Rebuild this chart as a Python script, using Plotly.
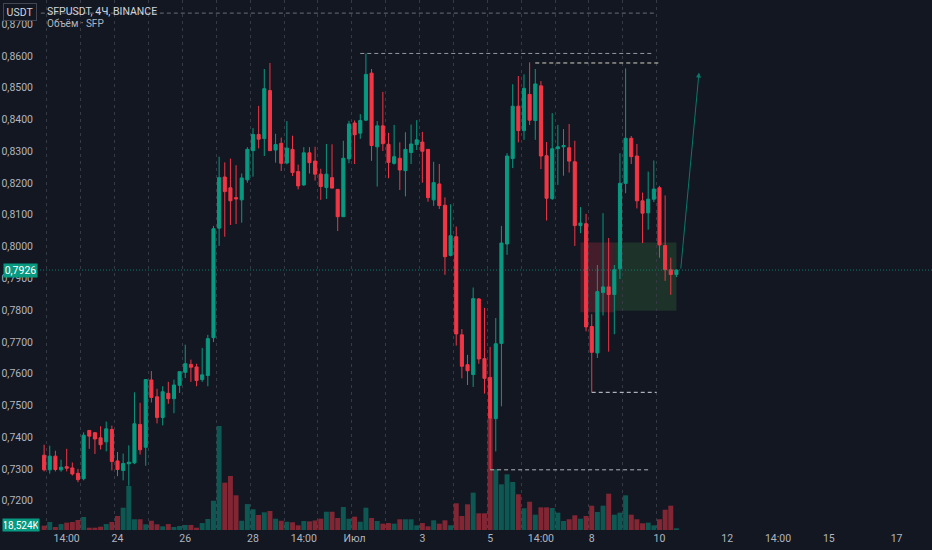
import pandas as pd
import plotly.graph_objects as go

# ---------------- data ----------------
open_ = [
    0.7343, 0.7297, 0.7340, 0.7297, 0.7307, 0.7303, 0.7286, 0.7269, 0.7421, 0.7414,
    0.7398, 0.7385, 0.7424, 0.7325, 0.7295, 0.7316, 0.7319, 0.7440, 0.7368, 0.7580,
    0.7527, 0.7462, 0.7538, 0.7521, 0.7563, 0.7604, 0.7629, 0.7621, 0.7581, 0.7594,
    0.7713, 0.8058, 0.8219, 0.8185, 0.8154, 0.8147, 0.8210, 0.8302, 0.8353, 0.8340,
    0.8491, 0.8304, 0.8325, 0.8263, 0.8306, 0.8236, 0.8194, 0.8295, 0.8269, 0.8228,
    0.8186, 0.8217, 0.8180, 0.8094, 0.8276, 0.8389, 0.8357, 0.8398, 0.8546, 0.8314,
    0.8380, 0.8322, 0.8262, 0.8278, 0.8239, 0.8296, 0.8321, 0.8329, 0.8306, 0.8147,
    0.8197, 0.8130, 0.7972, 0.8031, 0.7722, 0.7628, 0.7597, 0.7835, 0.7647, 0.7588,
    0.7458, 0.7695, 0.8008, 0.8277, 0.8442, 0.8365, 0.8479, 0.8397, 0.8506, 0.8286,
    0.8151, 0.8308, 0.8314, 0.8311, 0.8267, 0.8066, 0.8072, 0.7748, 0.7665, 0.7855,
    0.7873, 0.7849, 0.7930, 0.8199, 0.8341, 0.8285, 0.8144, 0.8106, 0.8149, 0.8185,
    0.8003, 0.7927, 0.7912,
]
high = [
    0.7376, 0.7373, 0.7357, 0.7329, 0.7363, 0.7320, 0.7300, 0.7415, 0.7421, 0.7414,
    0.7434, 0.7449, 0.7436, 0.7353, 0.7348, 0.7374, 0.7541, 0.7508, 0.7581, 0.7608,
    0.7552, 0.7560, 0.7574, 0.7581, 0.7606, 0.7691, 0.7644, 0.7631, 0.7681, 0.7722,
    0.8065, 0.8283, 0.8265, 0.8277, 0.8256, 0.8230, 0.8313, 0.8373, 0.8443, 0.8559,
    0.8578, 0.8355, 0.8343, 0.8395, 0.8349, 0.8258, 0.8313, 0.8313, 0.8314, 0.8245,
    0.8323, 0.8322, 0.8180, 0.8333, 0.8396, 0.8397, 0.8417, 0.8608, 0.8559, 0.8395,
    0.8487, 0.8358, 0.8383, 0.8328, 0.8360, 0.8384, 0.8398, 0.8361, 0.8306, 0.8267,
    0.8260, 0.8155, 0.8133, 0.8063, 0.7740, 0.7659, 0.7871, 0.7838, 0.7807, 0.7684,
    0.7775, 0.8065, 0.8294, 0.8511, 0.8537, 0.8542, 0.8580, 0.8559, 0.8521, 0.8329,
    0.8420, 0.8383, 0.8370, 0.8386, 0.8333, 0.8124, 0.8103, 0.7787, 0.7942, 0.8105,
    0.8027, 0.7942, 0.8294, 0.8561, 0.8348, 0.8323, 0.8170, 0.8236, 0.8271, 0.8191,
    0.8161, 0.7965, 0.7928,
]
low = [
    0.7292, 0.7285, 0.7292, 0.7291, 0.7292, 0.7279, 0.7258, 0.7264, 0.7363, 0.7347,
    0.7361, 0.7355, 0.7295, 0.7277, 0.7264, 0.7247, 0.7315, 0.7345, 0.7310, 0.7509,
    0.7443, 0.7437, 0.7505, 0.7475, 0.7539, 0.7586, 0.7574, 0.7560, 0.7574, 0.7560,
    0.7699, 0.8002, 0.8031, 0.8068, 0.8071, 0.8075, 0.8201, 0.8220, 0.8309, 0.8285,
    0.8302, 0.8264, 0.8238, 0.8259, 0.8222, 0.8180, 0.8191, 0.8230, 0.8208, 0.8147,
    0.8150, 0.8184, 0.8049, 0.8094, 0.8262, 0.8260, 0.8339, 0.8395, 0.8270, 0.8189,
    0.8301, 0.8215, 0.8258, 0.8178, 0.8158, 0.8260, 0.8304, 0.8201, 0.8141, 0.8128,
    0.8118, 0.7911, 0.7969, 0.7688, 0.7585, 0.7564, 0.7558, 0.7631, 0.7537, 0.7298,
    0.7355, 0.7497, 0.7974, 0.8247, 0.8328, 0.8336, 0.8383, 0.8336, 0.8244, 0.8082,
    0.8147, 0.8194, 0.8223, 0.8233, 0.8002, 0.8042, 0.7733, 0.7541, 0.7649, 0.7783,
    0.7669, 0.7724, 0.7898, 0.8168, 0.8260, 0.8120, 0.8011, 0.8053, 0.8140, 0.7965,
    0.7892, 0.7848, 0.7904,
]
close = [
    0.7297, 0.7340, 0.7298, 0.7305, 0.7302, 0.7284, 0.7266, 0.7406, 0.7403, 0.7394,
    0.7376, 0.7426, 0.7323, 0.7298, 0.7317, 0.7321, 0.7442, 0.7360, 0.7581, 0.7525,
    0.7462, 0.7543, 0.7521, 0.7564, 0.7606, 0.7631, 0.7620, 0.7578, 0.7596, 0.7710,
    0.8056, 0.8217, 0.8173, 0.8144, 0.8150, 0.8216, 0.8306, 0.8353, 0.8338, 0.8497,
    0.8302, 0.8321, 0.8262, 0.8310, 0.8233, 0.8191, 0.8295, 0.8264, 0.8228, 0.8189,
    0.8228, 0.8184, 0.8094, 0.8278, 0.8386, 0.8352, 0.8397, 0.8542, 0.8318, 0.8380,
    0.8324, 0.8265, 0.8283, 0.8241, 0.8306, 0.8323, 0.8336, 0.8300, 0.8154, 0.8201,
    0.8129, 0.7968, 0.8034, 0.7725, 0.7623, 0.7609, 0.7836, 0.7646, 0.7585, 0.7460,
    0.7694, 0.8011, 0.8285, 0.8442, 0.8365, 0.8498, 0.8398, 0.8512, 0.8285, 0.8152,
    0.8308, 0.8314, 0.8318, 0.8269, 0.8066, 0.8074, 0.7747, 0.7667, 0.7858, 0.7873,
    0.7849, 0.7927, 0.8199, 0.8341, 0.8283, 0.8144, 0.8105, 0.8149, 0.8181, 0.8005,
    0.7927, 0.7912, 0.7926,
]
volume_k = [
    47, 87, 33, 65, 80, 87, 109, 142, 25, 25,
    36, 65, 87, 153, 243, 480, 117, 117, 62, 101,
    62, 40, 65, 33, 44, 55, 55, 25, 76, 120,
    319, 1134, 516, 589, 378, 101, 283, 226, 164, 193,
    207, 123, 101, 90, 84, 51, 98, 94, 104, 123,
    199, 199, 131, 251, 123, 145, 90, 243, 131, 98,
    69, 76, 69, 117, 117, 117, 51, 76, 40, 106,
    69, 106, 51, 291, 153, 280, 407, 182, 182, 1221,
    662, 498, 607, 523, 389, 237, 308, 167, 247, 247,
    240, 189, 98, 117, 160, 123, 153, 265, 196, 265,
    396, 167, 189, 378, 167, 117, 73, 80, 51, 117,
    221, 265, 18.524,
]

first_candle = "2023-06-21 22:00"
times = pd.date_range(first_candle, periods=len(close), freq="4h")

tick_times = [
    "2023-06-22 14:00", "2023-06-24 02:00", "2023-06-26 02:00", "2023-06-28 02:00",
    "2023-06-29 14:00", "2023-07-01 02:00", "2023-07-03 02:00", "2023-07-05 02:00",
    "2023-07-06 14:00", "2023-07-08 02:00", "2023-07-10 02:00", "2023-07-12 02:00",
    "2023-07-13 14:00", "2023-07-15 02:00", "2023-07-17 02:00",
]
tick_text = ["14:00", "24", "26", "28", "14:00", "Июл", "3", "5",
             "14:00", "8", "10", "12", "14:00", "15", "17"]
session_breaks = list(pd.date_range("2023-06-22", "2023-07-10", freq="D"))

price_ticks = [0.72, 0.73, 0.74, 0.75, 0.76, 0.77, 0.78, 0.79,
               0.80, 0.81, 0.82, 0.83, 0.84, 0.85, 0.86, 0.87]

current_price = 0.7926
volume_label = "18,524K"

# horizontal dashed levels drawn on the chart
level_prices = [0.8735, 0.8608, 0.8578, 0.7541, 0.7297]
level_start = ["2023-06-15 00:00", "2023-07-01 06:00", "2023-07-06 10:00",
               "2023-07-08 02:00", "2023-07-05 02:00"]
level_end = ["2023-07-10 00:00", "2023-07-09 22:00", "2023-07-10 02:00",
             "2023-07-10 00:00", "2023-07-09 20:00"]

# rectangles (stop / target zones)
zone_start = ["2023-07-07 18:00", "2023-07-08 18:00"]
zone_end = ["2023-07-08 18:00", "2023-07-10 14:00"]
zone_top = [0.8013, 0.8013]
zone_bottom = [0.7793, 0.7798]

# projected arrow
arrow_from = ("2023-07-10 17:00", 0.7926)
arrow_to = ("2023-07-11 06:00", 0.8548)

# ---------------- styling ----------------
BG = "#131722"
UP = "#089981"
DOWN = "#f23645"
UP_VOL = "rgba(8,153,129,0.5)"
DOWN_VOL = "rgba(242,54,69,0.5)"
TXT = "#b2b5be"
FONT = "Liberation Sans Narrow, Roboto, sans-serif"
level_colors = ["#6a6d78", "#9598a1", "#d6d3c4", "#d1d4dc", "#b2b5be"]
zone_fills = ["rgba(242,54,69,0.22)", "rgba(76,175,80,0.18)"]

W, H = 932, 550
ML, MB = 40, 20
PLOT_W = W - ML
PLOT_H = H - MB
PX_PER_K = 1 / 10.9  # volume pixels per thousand
price_range = [0.71075, 0.87763]
x_range = ["2023-06-21 19:05", "2023-07-18 03:05"]

vol_colors = [UP_VOL if c >= o else DOWN_VOL for o, c in zip(open_, close)]

fig = go.Figure()
fig.add_trace(go.Bar(
    x=times, y=volume_k, marker=dict(color=vol_colors, line=dict(width=0)),
    yaxis="y", hoverinfo="skip", showlegend=False,
))
fig.add_trace(go.Candlestick(
    x=times, open=open_, high=high, low=low, close=close, yaxis="y2",
    increasing=dict(line=dict(color=UP, width=1), fillcolor=UP),
    decreasing=dict(line=dict(color=DOWN, width=1), fillcolor=DOWN),
    whiskerwidth=0, showlegend=False, hoverinfo="skip",
))

shapes = []
for x0, x1, y0, y1, fc in zip(zone_start, zone_end, zone_bottom, zone_top, zone_fills):
    shapes.append(dict(type="rect", xref="x", yref="y2", x0=x0, x1=x1, y0=y0, y1=y1,
                       fillcolor=fc, line=dict(width=0), layer="below"))
for p, x0, x1, col in zip(level_prices, level_start, level_end, level_colors):
    shapes.append(dict(type="line", xref="x", yref="y2", x0=x0, x1=x1, y0=p, y1=p,
                       line=dict(color=col, width=1, dash="4px,3px")))
shapes.append(dict(type="line", xref="paper", yref="y2", x0=0, x1=1,
                   y0=current_price, y1=current_price,
                   line=dict(color="rgba(8,153,129,0.75)", width=1, dash="1px,2px")))

label_x = (20 - ML) / PLOT_W
annotations = [
    dict(xref="paper", yref="paper", x=(45 - ML) / PLOT_W, y=(PLOT_H - 12) / PLOT_H,
         xanchor="left", yanchor="middle", showarrow=False,
         text="SFPUSDT, 4Ч, BINANCE", font=dict(family=FONT, size=10.5, color="#d1d4dc")),
    dict(xref="paper", yref="paper", x=(45 - ML) / PLOT_W, y=(PLOT_H - 23.5) / PLOT_H,
         xanchor="left", yanchor="middle", showarrow=False,
         text="Объём · SFP", font=dict(family=FONT, size=10, color=TXT)),
    dict(xref="paper", yref="paper", x=label_x, y=(PLOT_H - 12) / PLOT_H,
         xanchor="center", yanchor="middle", showarrow=False, text="USDT",
         width=30, height=14, bgcolor=BG, bordercolor="#434651", borderwidth=1,
         font=dict(family=FONT, size=10.5, color="#d1d4dc")),
    dict(xref="paper", yref="y2", x=label_x, y=current_price,
         xanchor="center", yanchor="middle", showarrow=False,
         text=f"{current_price:.4f}".replace(".", ","),
         width=31, height=11, bgcolor=UP, borderpad=1,
         font=dict(family=FONT, size=10.5, color="#ffffff")),
    dict(xref="paper", yref="y", x=(21 - ML) / PLOT_W, y=volume_k[-1],
         xanchor="center", yanchor="middle", showarrow=False, yshift=3,
         text=volume_label, width=34, height=10, bgcolor=UP, borderpad=1,
         font=dict(family=FONT, size=10, color="#ffffff")),
    dict(xref="x", yref="y2", axref="x", ayref="y2",
         x=arrow_to[0], y=arrow_to[1], ax=arrow_from[0], ay=arrow_from[1],
         showarrow=True, arrowhead=2, arrowsize=1, arrowwidth=1,
         arrowcolor="rgba(8,153,129,0.75)", text=""),
]

fig.update_layout(
    width=W, height=H,
    margin=dict(l=ML, r=0, t=0, b=MB),
    paper_bgcolor=BG, plot_bgcolor=BG,
    separators=", ",
    bargap=0.12, boxgap=0.22,
    hovermode=False, showlegend=False,
    font=dict(family=FONT, size=10.5, color=TXT),
    xaxis=dict(
        type="date", range=x_range, rangeslider=dict(visible=False),
        tickmode="array", tickvals=tick_times, ticktext=tick_text,
        showgrid=False, zeroline=False, showline=False, ticks="",
        tickfont=dict(family=FONT, size=10.5, color=TXT),
        minor=dict(tickmode="array", tickvals=session_breaks, showgrid=True,
                   gridcolor="#363a45", griddash="3px,4px", gridwidth=1, ticks=""),
    ),
    yaxis=dict(range=[0, PLOT_H / PX_PER_K], visible=False, showgrid=False,
               zeroline=False, fixedrange=True),
    yaxis2=dict(
        overlaying="y", side="left", range=price_range,
        tickmode="array", tickvals=price_ticks, tickformat=".4f",
        showgrid=False, zeroline=False, showline=False, ticks="",
        ticklabelstandoff=6,
        tickfont=dict(family=FONT, size=10.5, color=TXT),
    ),
    shapes=shapes,
    annotations=annotations,
)

fig.write_html(
    "out.html",
    config={"displayModeBar": False, "staticPlot": True},
    post_script="document.body.style.margin='0';document.body.style.overflow='hidden';"
                "document.body.style.background='" + BG + "';",
)
